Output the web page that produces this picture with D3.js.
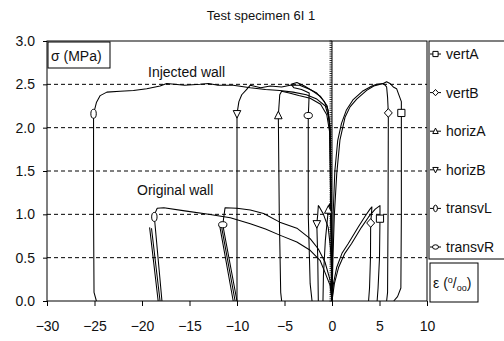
<!DOCTYPE html>
<html><head><meta charset="utf-8">
<script src="https://cdn.jsdelivr.net/npm/d3@7"></script>
<style>
body{margin:0;background:#fff}
svg{display:block}
text{font-family:"Liberation Sans",Arial,sans-serif;fill:#111}
</style>
</head><body><svg id="c" width="504" height="341"></svg>
<script>
// ---------- data ----------
const seriesNames = ["vertA","vertB","horizA","horizB","transvL","transvR"];
const xTicks = [-30,-25,-20,-15,-10,-5,0,5,10];
const yTicks = [0,0.5,1.0,1.5,2.0,2.5,3.0];
const gridValues = [0.5,1.0,1.5,2.0,2.5];
const titleText = "Test specimen 6I 1";
const wallLabels = ["Injected wall","Original wall"];

// Injected wall: [strain ‰, stress MPa]
const vertA_inj = [[0,0],[0.1,0.5],[0.25,1.0],[0.5,1.47],[0.84,1.86],[1.37,2.12],[1.9,2.24],[2.6,2.33],[3.65,2.43],[4.4,2.48],[5.4,2.51],[5.75,2.53],[6.1,2.51],[6.45,2.47],[6.8,2.45],[7.0,2.39],[7.3,2.3],[7.3,2.17],[7.3,1.0],[7.25,0.15],[6.9,0.05],[6.5,0]];
const vertB_inj = [[0,0],[0.05,0.5],[0.12,1.0],[0.3,1.5],[0.6,1.85],[1.0,2.05],[1.5,2.2],[2.2,2.32],[3.2,2.42],[4.2,2.48],[4.7,2.5],[5.4,2.51],[5.75,2.47],[5.85,2.35],[5.93,2.17],[5.9,1.0],[5.85,0.1],[5.75,0]];
const horizA_inj = [[0,0],[-0.05,0.5],[-0.1,1.0],[-0.2,1.5],[-0.25,1.95],[-0.55,2.15],[-1.2,2.27],[-2.3,2.34],[-3.5,2.37],[-4.5,2.4],[-5.3,2.42],[-5.5,2.38],[-5.65,2.14],[-5.55,1.0],[-5.4,0.1],[-5.3,0]];
const horizB_inj = [[0,0],[-0.05,0.5],[-0.1,1.0],[-0.15,1.5],[-0.2,2.0],[-0.4,2.2],[-0.8,2.3],[-1.6,2.4],[-2.3,2.44],[-3.4,2.49],[-4.4,2.49],[-5.3,2.47],[-6.5,2.48],[-7.5,2.46],[-8.6,2.49],[-9.0,2.44],[-9.5,2.38],[-9.8,2.3],[-10.0,2.16],[-10.0,1.0],[-10.0,0]];
const transvL_inj = [[0,0],[-0.05,0.5],[-0.1,1.0],[-0.15,1.5],[-0.2,1.9],[-0.35,2.12],[-0.7,2.25],[-1.6,2.33],[-2.7,2.38],[-4.1,2.41],[-5.5,2.43],[-7,2.44],[-8.6,2.46],[-10.4,2.49],[-12,2.49],[-13,2.51],[-13.9,2.5],[-15.5,2.49],[-17.4,2.51],[-18.1,2.48],[-19.5,2.45],[-20.9,2.43],[-22.3,2.42],[-23.7,2.41],[-24.4,2.37],[-24.8,2.29],[-25.1,2.16],[-25.1,1.0],[-25.05,0.1],[-24.8,0]];
const transvR_inj = [[0,0],[-0.03,0.5],[-0.08,1.0],[-0.12,1.5],[-0.2,2.0],[-0.5,2.25],[-1.2,2.36],[-2.0,2.42],[-2.9,2.48],[-3.7,2.52],[-4.3,2.5],[-4.0,2.46],[-3.2,2.44],[-2.4,2.4],[-2.45,2.25],[-2.5,2.14],[-2.5,1.0],[-2.3,0.2],[-2.1,0]];

// Original wall
const vertA_orig = [[0,0],[0.25,0.2],[0.7,0.39],[1.35,0.55],[2.05,0.66],[3.1,0.85],[3.85,0.97],[4.55,1.06],[5.05,1.1],[5.05,1.02],[5.05,0.95],[5.0,0.5],[4.85,0.15],[4.75,0]];
const vertB_orig = [[0,0],[0.15,0.2],[0.5,0.39],[1.05,0.55],[1.7,0.66],[2.75,0.85],[3.5,0.98],[4.0,1.06],[4.2,1.085],[4.15,1.0],[4.07,0.9],[4.05,0.5],[3.95,0.15],[3.85,0]];
const horizA_orig = [[0,0],[-0.03,0.4],[-0.08,0.8],[-0.15,1.0],[-0.25,1.12],[-0.35,1.1],[-0.39,1.05],[-0.7,0.7],[-0.9,0.3],[-0.95,0]];
const horizB_orig = [[0,0],[-0.05,0.3],[-0.15,0.6],[-0.4,0.85],[-0.9,1.0],[-1.3,1.08],[-1.44,1.1],[-1.5,1.0],[-1.6,0.89],[-1.5,0.5],[-1.44,0]];
const transvL_orig = [[0,0],[-0.2,0.18],[-0.74,0.33],[-1.26,0.47],[-2.3,0.585],[-3.7,0.68],[-5.5,0.76],[-7,0.83],[-8.6,0.89],[-10.7,0.96],[-13,1.0],[-15.5,1.04],[-17.7,1.075],[-18.4,1.07],[-18.6,1.02],[-18.7,0.97],[-17.9,0],null,[-19.2,0.85],[-18.3,0],null,[-19.0,0.84],[-18.1,0]];
const transvR_orig = [[0,0],[-0.2,0.24],[-0.74,0.45],[-1.44,0.6],[-2.3,0.72],[-3.7,0.84],[-5.5,0.91],[-7.2,1.01],[-8.6,1.05],[-10.0,1.07],[-11.26,1.075],[-11.4,0.96],[-11.5,0.88],[-10.0,0],null,[-11.8,0.855],[-10.4,0],null,[-11.6,0.84],[-10.2,0]];

// marker points (one per series and wall), order = seriesNames
const injMarkStrain = [7.3, 5.93, -5.65, -10.0, -25.1, -2.5];
const injMarkStress = [2.17, 2.17, 2.14, 2.16, 2.16, 2.14];
const origMarkStrain = [5.05, 4.07, -0.39, -1.6, -18.7, -11.5];
const origMarkStress = [0.95, 0.90, 1.05, 0.89, 0.97, 0.88];

const injCurves = [vertA_inj, vertB_inj, horizA_inj, horizB_inj, transvL_inj, transvR_inj];
const origCurves = [vertA_orig, vertB_orig, horizA_orig, horizB_orig, transvL_orig, transvR_orig];

// ---------- drawing ----------
const svg = d3.select("#c");
const x = d3.scaleLinear().domain([-30,10]).range([47,427]);
const y = d3.scaleLinear().domain([0,3]).range([301,41]);
const FS = 14;

// gridlines
svg.append("g").selectAll("line").data(gridValues).join("line")
  .attr("x1", x(-30)).attr("x2", x(10))
  .attr("y1", d=>y(d)).attr("y2", d=>y(d))
  .attr("stroke","#000").attr("stroke-width",1).attr("stroke-dasharray","4,3");

// frame
svg.append("rect").attr("x",x(-30)).attr("y",y(3)).attr("width",x(10)-x(-30)).attr("height",y(0)-y(3))
  .attr("fill","none").attr("stroke","#000").attr("stroke-width",1);

// axes
const xAxis = d3.axisBottom(x).tickValues(xTicks).tickSize(5).tickPadding(15).tickFormat(d3.format("d"));
const gx = svg.append("g").attr("transform",`translate(0,${y(0)})`).call(xAxis);
gx.select(".domain").remove();
gx.selectAll("text").attr("font-size",FS).attr("font-family","Liberation Sans, Arial, sans-serif").attr("fill","#111");

const yAxis = d3.axisLeft(y).tickValues(yTicks).tickSize(4).tickPadding(8).tickFormat(d3.format(".1f"));
const gy = svg.append("g").attr("transform",`translate(${x(-30)},0)`).call(yAxis);
gy.select(".domain").remove();
gy.selectAll("text").attr("font-size",FS).attr("font-family","Liberation Sans, Arial, sans-serif").attr("fill","#111");

// vertical axis at strain 0 with fine hatch ticks
svg.append("line").attr("x1",x(0)).attr("x2",x(0)).attr("y1",y(0)).attr("y2",y(3)).attr("stroke","#000");
svg.append("g").selectAll("line").data(d3.range(0,3.0001,0.025)).join("line")
  .attr("x1",x(0)-2.5).attr("x2",x(0)).attr("y1",d=>y(d)).attr("y2",d=>y(d))
  .attr("stroke","#000").attr("stroke-width",0.8);

// curves
const line = d3.line().defined(d=>d!==null).x(d=>x(d[0])).y(d=>y(d[1]));
const curves = svg.append("g").attr("fill","none").attr("stroke","#000").attr("stroke-width",1.05).attr("stroke-linejoin","round");
injCurves.concat(origCurves).forEach(c=>curves.append("path").attr("d",line(c)));

// marker shapes
function markerPath(name, s){
  switch(name){
    case "vertA": return `M${-s},${-s}H${s}V${s}H${-s}Z`;
    case "vertB": return `M0,${-s*1.2}L${s*1.1},0L0,${s*1.2}L${-s*1.1},0Z`;
    case "horizA": return `M0,${-s*1.2}L${s*1.05},${s*0.9}L${-s*1.05},${s*0.9}Z`;
    case "horizB": return `M0,${s*1.2}L${s*1.05},${-s*0.9}L${-s*1.05},${-s*0.9}Z`;
  }
  return "";
}
function drawMarker(g, name, cx, cy, s){
  if(name==="transvL"){
    g.append("ellipse").attr("cx",cx).attr("cy",cy).attr("rx",s*0.75).attr("ry",s*1.25).attr("fill","#fff").attr("stroke","#000");
  } else if(name==="transvR"){
    g.append("ellipse").attr("cx",cx).attr("cy",cy).attr("rx",s*1.15).attr("ry",s*0.85).attr("fill","#fff").attr("stroke","#000");
  } else {
    g.append("path").attr("transform",`translate(${cx},${cy})`).attr("d",markerPath(name,s)).attr("fill","#fff").attr("stroke","#000");
  }
}
const mk = svg.append("g");
seriesNames.forEach((n,i)=>{
  drawMarker(mk, n, x(injMarkStrain[i]), y(injMarkStress[i]), 3.6);
  drawMarker(mk, n, x(origMarkStrain[i]), y(origMarkStress[i]), 3.6);
});

// title and labels
svg.append("text").attr("x",261).attr("y",20).attr("text-anchor","middle").attr("font-size",13).text(titleText);
svg.append("text").attr("x",148).attr("y",77).attr("font-size",FS).text(wallLabels[0]);
svg.append("text").attr("x",137).attr("y",195).attr("font-size",FS).text(wallLabels[1]);

// sigma box
svg.append("rect").attr("x",48).attr("y",42).attr("width",62).attr("height",26).attr("fill","#fff").attr("stroke","#000");
svg.append("text").attr("x",51).attr("y",61).attr("font-size",FS).text("σ (MPa)");

// legend
const ly = d3.scalePoint().domain(seriesNames).range([54,247]);
svg.append("rect").attr("x",x(10)+2).attr("y",y(3)).attr("width",90).attr("height",218).attr("fill","#fff").attr("stroke","#000");
const lg = svg.append("g");
seriesNames.forEach(n=>{
  const yy = ly(n);
  lg.append("line").attr("x1",x(10)+3).attr("x2",x(10)+14).attr("y1",yy).attr("y2",yy).attr("stroke","#000");
  drawMarker(lg, n, x(10)+8.5, yy, 2.6);
  lg.append("text").attr("x",x(10)+19).attr("y",yy).attr("dy","0.36em").attr("font-size",FS).text(n);
});

// epsilon box
svg.append("rect").attr("x",430).attr("y",263).attr("width",48).attr("height",39).attr("fill","#fff").attr("stroke","#000");
const et = svg.append("text").attr("x",433).attr("y",288).attr("font-size",FS);
et.append("tspan").text("ε (");
et.append("tspan").attr("font-size",9).attr("dy",-5).text("o");
et.append("tspan").attr("dy",5).text("/");
et.append("tspan").attr("font-size",9).attr("dy",3).text("oo");
et.append("tspan").attr("dy",-3).text(")");
</script>
</body></html>
